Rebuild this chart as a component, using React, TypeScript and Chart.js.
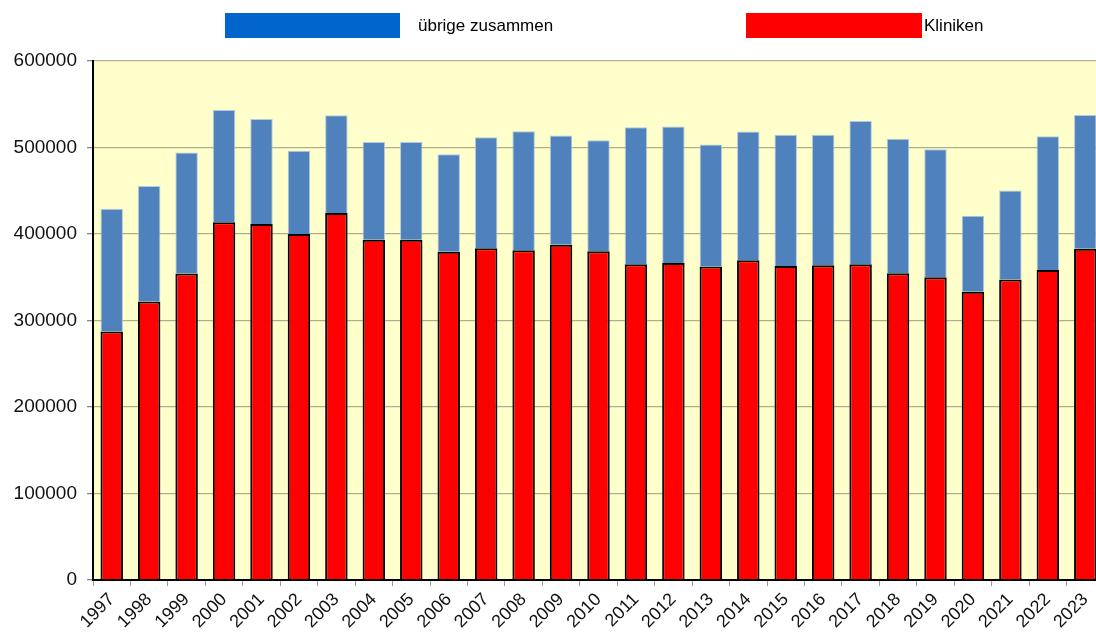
import React, { useEffect, useRef } from "react";
import { Chart, registerables } from "chart.js";

Chart.register(...registerables);

const years = [
  "1997", "1998", "1999", "2000", "2001", "2002", "2003", "2004", "2005",
  "2006", "2007", "2008", "2009", "2010", "2011", "2012", "2013", "2014",
  "2015", "2016", "2017", "2018", "2019", "2020", "2021", "2022", "2023",
];

const kliniken = [
  287300, 321900, 354200, 413500, 411500, 400000, 424200, 393400, 393400,
  379600, 383500, 381200, 387700, 380000, 365000, 366500, 362300, 369600,
  363100, 363900, 365000, 354600, 350000, 333100, 347300, 358500, 383000,
];

const uebrige = [
  141900, 133500, 140100, 129900, 121500, 96100, 113100, 113100, 113100,
  112700, 128400, 137600, 126100, 128400, 158500, 157800, 141200, 148900,
  151500, 150700, 165700, 155400, 148100, 88000, 103100, 154600, 154700,
];

const seriesLabels = ["Kliniken", "übrige zusammen"];
const yMin = 0;
const yMax = 600000;
const yStep = 100000;

const FONT = '"Liberation Sans", Arial, sans-serif';

export default function App() {
  const ref = useRef<HTMLCanvasElement>(null);

  useEffect(() => {
    document.body.style.margin = "0";
    document.body.style.overflow = "hidden";
    document.documentElement.style.overflow = "hidden";

    const bgPlugin = {
      id: "bgPlugin",
      beforeDraw(chart: any) {
        const { ctx, chartArea: a } = chart;
        ctx.save();
        ctx.fillStyle = "#ffffff";
        ctx.fillRect(0, 0, chart.width, chart.height);
        ctx.fillStyle = "#FFFFCC";
        ctx.fillRect(a.left, a.top, a.right - a.left, a.bottom - a.top);
        ctx.restore();
      },
    };

    const legendPlugin = {
      id: "customLegend",
      afterDraw(chart: any) {
        const { ctx } = chart;
        ctx.save();
        ctx.fillStyle = "#0066CC";
        ctx.fillRect(225, 13, 175, 25);
        ctx.fillStyle = "#FF0000";
        ctx.fillRect(746, 13, 176, 25);
        ctx.fillStyle = "#000000";
        ctx.font = `17px ${FONT}`;
        ctx.textBaseline = "middle";
        ctx.textAlign = "left";
        ctx.fillText(chart.data.datasets[1].label, 418, 26);
        ctx.fillText(chart.data.datasets[0].label, 924, 26);
        ctx.restore();
      },
    };

    const chart = new Chart(ref.current as HTMLCanvasElement, {
      type: "bar",
      data: {
        labels: years,
        datasets: [
          {
            label: seriesLabels[0],
            data: kliniken,
            backgroundColor: "#FF0000",
            borderColor: "#000000",
            borderWidth: { top: 2, left: 2, right: 2, bottom: 0 },
            borderSkipped: false,
            stack: "s",
          },
          {
            label: seriesLabels[1],
            data: uebrige,
            backgroundColor: "#4F81BD",
            borderColor: "rgba(170,195,225,0.9)",
            borderWidth: 1,
            stack: "s",
          },
        ],
      },
      options: {
        animation: false,
        responsive: true,
        maintainAspectRatio: false,
        layout: { padding: { top: 61, left: 0, right: 0, bottom: 0 } },
        plugins: {
          legend: { display: false },
          tooltip: { enabled: false },
        },
        datasets: {
          bar: { categoryPercentage: 1, barPercentage: 0.6 },
        },
        scales: {
          x: {
            stacked: true,
            offset: true,
            afterFit: (s: any) => {
              s.height = 52;
            },
            grid: {
              display: true,
              drawOnChartArea: false,
              offset: true,
              tickLength: 6,
              tickColor: "#999999",
            },
            border: { display: true, color: "#000000", width: 2 },
            ticks: {
              minRotation: 45,
              maxRotation: 45,
              autoSkip: false,
              padding: 3,
              color: "#111111",
              font: { family: FONT, size: 18 },
            },
          },
          y: {
            stacked: true,
            min: yMin,
            max: yMax,
            afterFit: (s: any) => {
              s.width = 93;
            },
            grid: {
              color: "rgba(110,110,90,0.55)",
              lineWidth: 1.3,
              tickLength: 6,
              tickColor: "#888888",
            },
            border: { display: true, color: "#000000", width: 2 },
            ticks: {
              stepSize: yStep,
              padding: 10,
              color: "#111111",
              font: { family: FONT, size: 19 },
              callback: (v: any) => String(v),
            },
          },
        },
      },
      plugins: [bgPlugin, legendPlugin],
    });

    return () => chart.destroy();
  }, []);

  return (
    <div style={{ width: 1104, height: 632, position: "relative" }}>
      <canvas ref={ref} />
    </div>
  );
}
